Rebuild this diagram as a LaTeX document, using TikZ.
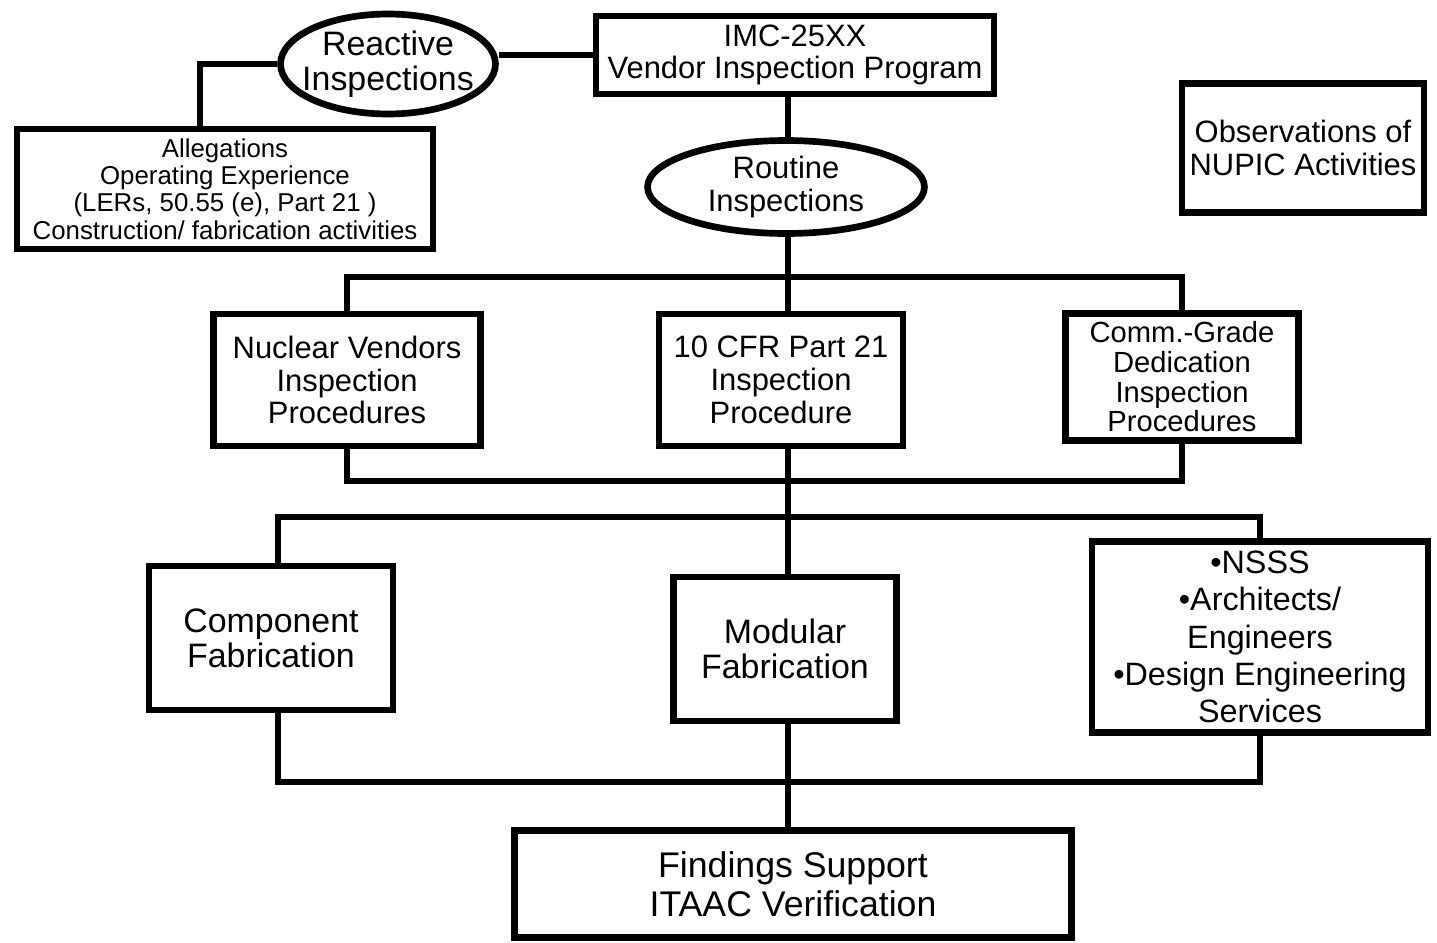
\documentclass[tikz,border=0pt]{standalone}
\usepackage{fontspec}
\setmainfont{Liberation Sans}
\usetikzlibrary{shapes.geometric}

\newcommand{\fsmall}{\fontsize{14.7}{15.6}\selectfont}
\newcommand{\fmid}{\fontsize{17.6}{18.6}\selectfont}
\newcommand{\fbig}{\fontsize{19.3}{20}\selectfont}
\newcommand{\fhuge}{\fontsize{20.3}{22}\selectfont}

\begin{document}
\begin{tikzpicture}[x=0.02cm,y=-0.02cm,
  box/.style={draw,line width=3.8pt,inner sep=0pt,align=center},
  oval/.style={draw,ellipse,line width=3.8pt,inner sep=0pt},
  lbl/.style={inner sep=0pt,align=center},
  wire/.style={line width=3.1pt}]
\useasboundingbox (0,0) rectangle (1437,943);

% top row
\node[oval,minimum width=4.3cm,minimum height=2cm] (react) at (388,64) {};
\node[lbl,font=\fbig] (reacttxt) at (react) {Reactive\\Inspections};
\node[box,font=\fsmall,minimum width=8.32cm,minimum height=2.4cm] (alleg) at (225,189)
  {Allegations\\Operating Experience\\(LERs, 50.55 (e), Part 21 )\\Construction/ fabrication activities};
\node[box,font=\fmid,minimum width=7.96cm,minimum height=1.56cm] (imc) at (795,55) {IMC-25XX\\Vendor Inspection Program};
\node[oval,minimum width=5.54cm,minimum height=1.86cm] (routine) at (786,187) {};
\node[lbl,font=\fmid] (routinetxt) at (routine) {Routine\\Inspections};
\node[box,font=\fmid,minimum width=4.84cm,minimum height=2.58cm] (nupic) at (1303,148) {Observations of\\NUPIC Activities};

% procedures
\node[box,font=\fmid,minimum width=5.34cm,minimum height=2.64cm] (nuc) at (347,380) {Nuclear Vendors\\Inspection\\Procedures};
\node[box,font=\fmid,minimum width=4.88cm,minimum height=2.64cm] (cfr) at (781,380) {10 CFR Part 21\\Inspection\\Procedure};
\node[box,font=\fontsize{16.6}{16.9}\selectfont,minimum width=4.66cm,minimum height=2.54cm] (comm) at (1182,377) {Comm.-Grade\\Dedication\\Inspection\\Procedures};

% fabrication
\node[box,font=\fbig,minimum width=4.88cm,minimum height=2.88cm] (comp) at (271,638) {Component\\Fabrication};
\node[box,font=\fbig,minimum width=4.46cm,minimum height=2.88cm] (modular) at (785,649) {Modular\\Fabrication};
\node[box,font=\fontsize{18.4}{21.3}\selectfont,minimum width=6.72cm,minimum height=3.82cm] (nsss) at (1260,637)
  {\textbullet NSSS\\\textbullet Architects/\\Engineers\\\textbullet Design Engineering\\Services};
\node[box,font=\fhuge,minimum width=11.14cm,minimum height=2.14cm] (find) at (793,884) {Findings Support\\ITAAC Verification};

\coordinate (bus1) at (788,277);
\coordinate (bus2) at (788,481);
\coordinate (bus3) at (788,517);
\coordinate (bus4) at (788,782);

\draw[wire] (react.west) -| ([xshift=-0.5cm]alleg.north);
\draw[wire] (imc.west) -- (react.east |- imc.west);
\draw[wire] (imc.south -| bus1) -- (routine.north -| bus1);
\draw[wire] (routine.south -| bus1) -- (cfr.north -| bus1);
\draw[wire] (nuc.north) |- (bus1) -| (comm.north);
\draw[wire] (nuc.south) |- (bus2) -| (comm.south);
\draw[wire] (cfr.south -| bus2) -- (modular.north -| bus2);
\draw[wire] ([xshift=0.14cm]comp.north) |- (bus3) -| (nsss.north);
\draw[wire] ([xshift=0.14cm]comp.south) |- (bus4) -| (nsss.south);
\draw[wire] (modular.south -| bus4) -- (find.north -| bus4);
%\draw[wire] (nupic.west) -- (imc.east);
\end{tikzpicture}
\end{document}
